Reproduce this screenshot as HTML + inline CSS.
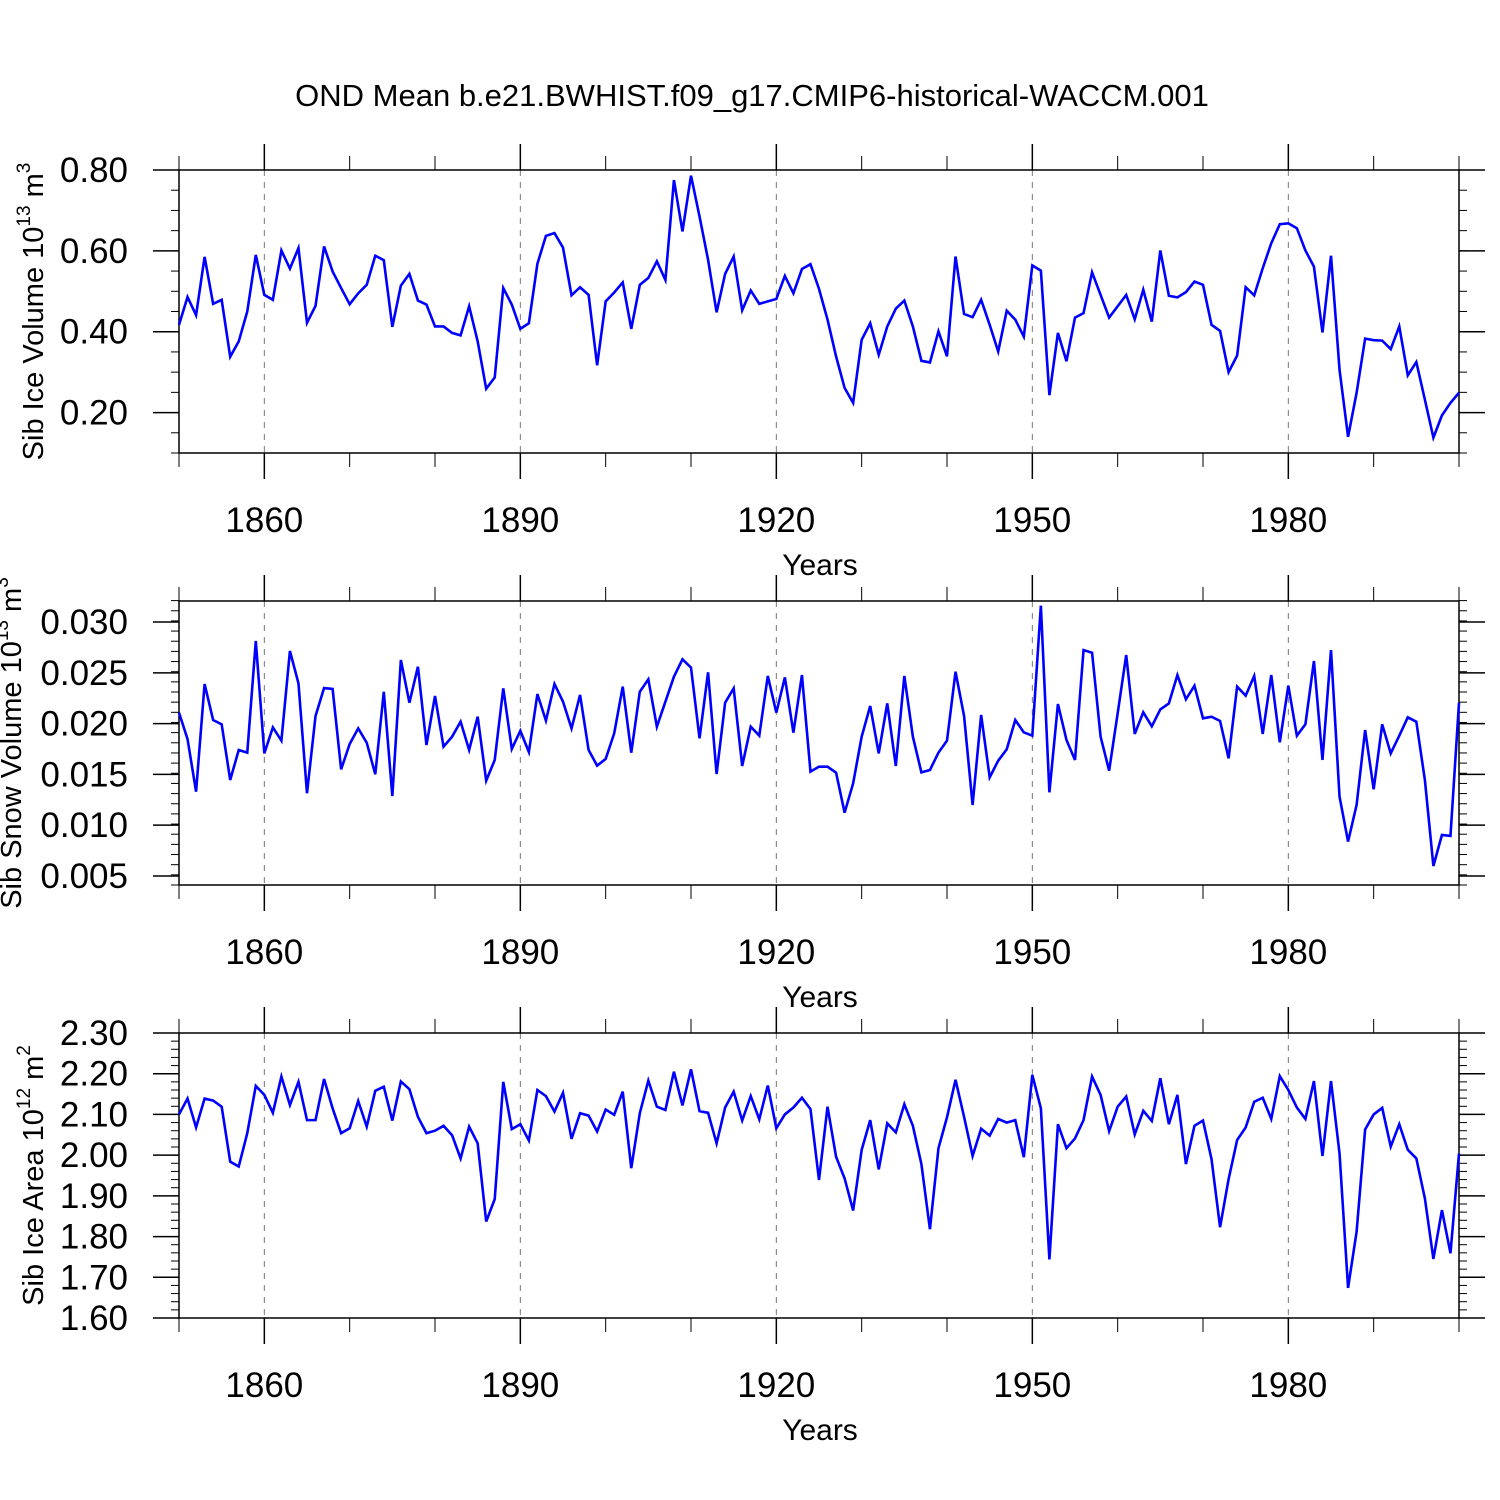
<!DOCTYPE html>
<html><head><meta charset="utf-8">
<style>
html,body{margin:0;padding:0;background:#fff;}
svg{display:block;font-family:"Liberation Sans",Arial,sans-serif;}
</style></head>
<body>
<svg id="chart" width="1500" height="1500" viewBox="0 0 1500 1500" xmlns="http://www.w3.org/2000/svg">
<text x="752" y="106" font-size="31" text-anchor="middle">OND Mean b.e21.BWHIST.f09_g17.CMIP6-historical-WACCM.001</text>
</svg>
<script>
const startYear = 1850;
const iceVolume = [0.417,0.486,0.441,0.585,0.469,0.479,0.338,0.376,0.450,0.590,
0.491,0.479,0.601,0.556,0.607,0.422,0.464,0.611,0.549,0.508,
0.468,0.495,0.516,0.588,0.577,0.412,0.514,0.543,0.477,0.467,
0.413,0.413,0.397,0.391,0.463,0.376,0.259,0.287,0.508,
0.467,0.407,0.421,0.568,0.637,0.644,0.608,0.490,0.510,0.491,0.317,
0.475,0.497,0.522,0.407,0.516,0.533,0.574,0.528,0.775,0.648,
0.786,0.685,0.578,0.448,0.543,0.586,0.453,0.502,0.469,0.475,
0.481,0.538,0.495,0.555,0.567,0.506,
0.430,0.339,0.261,0.224,0.380,0.421,0.343,0.413,0.457,0.477,
0.413,0.328,0.324,0.401,0.339,0.586,0.444,0.436,0.479,0.417,
0.351,0.452,0.430,0.388,0.564,0.551,0.243,0.397,0.327,0.435,
0.446,0.547,0.491,0.435,0.463,0.491,0.431,0.504,
0.425,0.601,0.489,0.485,0.498,0.524,0.516,0.417,0.402,0.300,
0.341,0.510,0.490,0.557,0.619,0.666,0.668,0.656,0.601,0.561,
0.398,0.588,0.306,0.140,0.249,0.383,0.379,0.378,0.357,0.413,
0.292,0.325,0.232,0.138,0.193,0.224,0.249];
const snowVolume = [0.02108,0.01848,0.01330,0.02390,0.02035,0.01993,0.01445,0.01740,0.01714,0.02813,
0.01707,0.01963,0.01832,0.02715,0.02396,0.01314,0.02075,0.02350,0.02341,0.01550,
0.01799,0.01953,0.01812,0.01501,0.02314,0.01287,0.02626,0.02206,0.02560,0.01789,
0.02272,0.01773,0.01871,0.02019,0.01740,0.02068,0.01438,0.01642,0.02347,
0.01750,0.01930,0.01720,0.02291,0.02029,0.02390,0.02216,0.01953,0.02282,0.01740,
0.01586,0.01652,0.01904,0.02364,0.01714,0.02314,0.02436,0.01970,0.02216,0.02462,
0.02633,0.02551,0.01855,0.02505,0.01504,0.02206,0.02347,0.01583,0.01970,0.01881,
0.02469,0.02108,0.02455,0.01911,0.02478,0.01527,0.01576,
0.01576,0.01517,0.01123,0.01412,0.01871,0.02173,0.01707,0.02199,0.01583,0.02469,
0.01871,0.01520,0.01543,0.01714,0.01832,0.02511,0.02075,0.01199,0.02085,0.01471,
0.01635,0.01747,0.02035,0.01914,0.01881,0.03161,0.01323,0.02193,0.01839,0.01642,
0.02724,0.02698,0.01871,0.01537,0.02101,0.02675,0.01898,0.02111,
0.01973,0.02140,0.02199,0.02478,0.02239,0.02373,0.02052,0.02068,0.02026,0.01658,
0.02364,0.02275,0.02469,0.01898,0.02478,0.01816,0.02373,0.01881,0.01993,0.02616,
0.01642,0.02724,0.01281,0.00838,0.01199,0.01937,0.01353,0.01993,0.01707,0.01881,
0.02062,0.02019,0.01445,0.00598,0.00904,0.00894,0.02206];
const iceArea = [2.100,2.139,2.068,2.139,2.134,2.119,1.984,1.972,2.054,2.170,
2.148,2.104,2.193,2.123,2.180,2.086,2.086,2.187,2.115,2.054,
2.066,2.133,2.070,2.158,2.168,2.085,2.181,2.162,2.094,2.054,
2.060,2.072,2.049,1.992,2.070,2.029,1.837,1.892,2.180,
2.064,2.076,2.036,2.160,2.145,2.107,2.153,2.040,2.103,2.097,
2.058,2.112,2.099,2.156,1.968,2.103,2.183,2.119,2.111,2.205,
2.122,2.211,2.108,2.104,2.029,2.117,2.156,2.085,2.145,2.088,
2.171,2.066,2.100,2.117,2.141,2.113,1.939,
2.119,1.996,1.943,1.864,2.013,2.086,1.965,2.078,2.056,2.125,
2.072,1.978,1.818,2.017,2.093,2.185,2.094,1.998,2.065,2.048,
2.089,2.080,2.086,1.995,2.197,2.115,1.744,2.076,2.017,2.041,
2.086,2.193,2.148,2.059,2.119,2.144,2.051,2.109,
2.084,2.189,2.076,2.148,1.978,2.072,2.085,1.990,1.823,1.941,
2.037,2.068,2.131,2.141,2.089,2.194,2.160,2.117,2.089,2.182,
1.998,2.182,2.004,1.674,1.812,2.063,2.100,2.116,2.021,2.076,
2.013,1.992,1.894,1.745,1.865,1.759,2.004];
const xTickYears = [1860,1890,1920,1950,1980];
const iceVolTicks = [0.20,0.40,0.60,0.80];
const snowTicks = [0.005,0.010,0.015,0.020,0.025,0.030];
const areaTicks = [1.60,1.70,1.80,1.90,2.00,2.10,2.20,2.30];

const svg = document.getElementById('chart');
const NS = 'http://www.w3.org/2000/svg';
function mk(tag, attrs){const e=document.createElementNS(NS,tag);for(const k in attrs)e.setAttribute(k,attrs[k]);svg.appendChild(e);return e;}
const X0=179, X1=1459, YR0=1850, YR1=2000;
function xs(yr){return X0+(yr-YR0)*(X1-X0)/(YR1-YR0);}

function panel(cfg){
  const ys=v=>cfg.top+(cfg.max-v)*(cfg.bot-cfg.top)/(cfg.max-cfg.min);
  xTickYears.forEach(y=>{
    const l=mk('line',{x1:xs(y),x2:xs(y),y1:cfg.top,y2:cfg.bot,stroke:'#777','stroke-width':1,'stroke-dasharray':'6,6'});
    
    
  });
  for(let y=1850;y<=2000;y+=10){
    const maj=xTickYears.includes(y);
    const len=maj?26:14;
    mk('line',{x1:xs(y),x2:xs(y),y1:cfg.top-len,y2:cfg.top,stroke:'#000','stroke-width':maj?1.5:1});
    mk('line',{x1:xs(y),x2:xs(y),y1:cfg.bot,y2:cfg.bot+len,stroke:'#000','stroke-width':maj?1.5:1});
  }
  xTickYears.forEach(y=>{
    const t=mk('text',{x:xs(y),y:cfg.bot+79,'font-size':35,'text-anchor':'middle'});
    t.textContent=y;
    
    
  });
  const xt=mk('text',{x:820,y:cfg.bot+122,'font-size':30,'text-anchor':'middle'});
  xt.textContent='Years';
  
  
  const n=Math.round((cfg.max-cfg.min)/cfg.minor);
  for(let i=0;i<=n;i++){
    const v=cfg.min+i*cfg.minor, y=ys(v);
    if(y<cfg.top-0.5||y>cfg.bot+0.5) continue;
    mk('line',{x1:X0-8,x2:X0,y1:y,y2:y,stroke:'#000','stroke-width':1});
    mk('line',{x1:X1,x2:X1+8,y1:y,y2:y,stroke:'#000','stroke-width':1});
  }
  cfg.ticks.forEach(v=>{
    const y=ys(v);
    mk('line',{x1:X0-26,x2:X0,y1:y,y2:y,stroke:'#000','stroke-width':1.5});
    mk('line',{x1:X1,x2:X1+26,y1:y,y2:y,stroke:'#000','stroke-width':1.5});
    const t=mk('text',{x:128,y:y+12,'font-size':35,'text-anchor':'end'});
    t.textContent=v.toFixed(cfg.dec);
    
    
  });
  const fr=mk('rect',{x:X0,y:cfg.top,width:X1-X0,height:cfg.bot-cfg.top,fill:'none',stroke:'#000','stroke-width':1.5});
  
  
  const yt=mk('text',{transform:`translate(${cfg.tx},${(cfg.top+cfg.bot)/2}) rotate(-90)`,'font-size':29,'text-anchor':'middle'});
  yt.innerHTML=cfg.title;
  
  
  const pts=cfg.data.map((v,i)=>xs(startYear+i).toFixed(2)+','+ys(v).toFixed(2)).join(' ');
  const pl=mk('polyline',{points:pts,fill:'none',stroke:'#0000ff','stroke-width':2.6,'stroke-linejoin':'miter'});
  
  
}
panel({key:'ice-volume',data:iceVolume,top:170,bot:453,max:0.8,min:0.1,minor:0.05,ticks:iceVolTicks,dec:2,tx:43,
  title:'Sib Ice Volume 10<tspan font-size="19" dy="-13">13</tspan><tspan dy="13"> m</tspan><tspan font-size="19" dy="-13">3</tspan>'});
panel({key:'snow-volume',data:snowVolume,top:601,bot:885,max:0.03207,min:0.00411,minor:0.001,ticks:snowTicks,dec:3,tx:21,
  title:'Sib Snow Volume 10<tspan font-size="19" dy="-13">13</tspan><tspan dy="13"> m</tspan><tspan font-size="19" dy="-13">3</tspan>'});
panel({key:'ice-area',data:iceArea,top:1033,bot:1318,max:2.30,min:1.60,minor:0.02,ticks:areaTicks,dec:2,tx:43,
  title:'Sib Ice Area 10<tspan font-size="19" dy="-13">12</tspan><tspan dy="13"> m</tspan><tspan font-size="19" dy="-13">2</tspan>'});
</script>
</body></html>
